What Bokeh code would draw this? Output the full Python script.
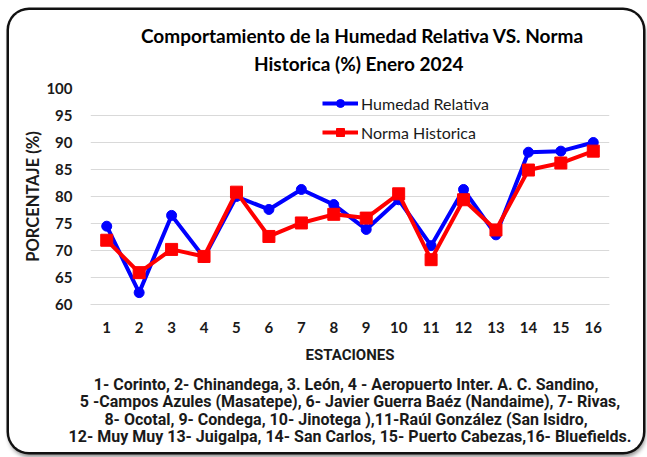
from bokeh.plotting import figure
from bokeh.models import FixedTicker, Range1d, Legend, LegendItem, Title
from bokeh.embed import file_html
from bokeh.resources import INLINE

# ---------------- data ----------------
estaciones = list(range(1, 17))
humedad = [74.5, 62.2, 76.5, 68.7, 80.0, 77.6, 81.3, 78.5, 73.9, 79.4, 70.9, 81.3, 72.9, 88.2, 88.4, 90.0]
norma = [71.9, 65.9, 70.2, 68.9, 80.8, 72.6, 75.1, 76.7, 76.0, 80.5, 68.3, 79.4, 73.8, 84.9, 86.2, 88.4]
y_ticks = [60, 65, 70, 75, 80, 85, 90, 95, 100]
series_names = ["Humedad Relativa", "Norma Historica"]
title_lines = ["Comportamiento de la Humedad Relativa VS. Norma",
               "Historica (%)  Enero 2024"]
x_title = "ESTACIONES"
y_title = "PORCENTAJE (%)"
footnote_lines = [
    "1- Corinto,  2- Chinandega,  3. León, 4 - Aeropuerto Inter. A. C. Sandino,",
    "5 -Campos Azules (Masatepe), 6- Javier Guerra Baéz (Nandaime), 7- Rivas,",
    "8- Ocotal, 9- Condega,  10- Jinotega ),11-Raúl González  (San Isidro,",
    "12- Muy Muy 13- Juigalpa, 14- San Carlos, 15- Puerto Cabezas,16- Bluefields.",
]

W, H = 634, 442
TXT = "#1a1a1a"
NARROW = "Roboto"

p = figure(width=W, height=H, output_backend="svg", toolbar_location=None,
           x_range=Range1d(0.5, 16.5), y_range=Range1d(60, 100),
           min_border_left=81, min_border_right=34, min_border_top=78, min_border_bottom=148,
           background_fill_color="white", border_fill_color=None)
p.styles = {
    "margin-left": "9px",
    "margin-top": "10px",
    "border-radius": "20px",
    "background": "white",
    "box-shadow": "0 0 0 2.5px #111111, 1px 4px 4px 1px rgba(0,0,0,0.45)",
}
p.outline_line_color = None
p.xgrid.grid_line_color = None
p.ygrid.grid_line_color = "#d9d9d9"
p.ygrid.grid_line_width = 1

# axes
p.yaxis.ticker = FixedTicker(ticks=y_ticks)
p.xaxis.ticker = FixedTicker(ticks=estaciones)
for ax in (p.xaxis[0], p.yaxis[0]):
    ax.major_tick_line_color = None
    ax.minor_tick_line_color = None
    ax.major_label_text_font = "Lato"
    ax.major_label_text_font_style = "bold"
    ax.major_label_text_font_size = "15px"
    ax.major_label_text_color = TXT
    ax.axis_label_text_color = TXT
    ax.axis_label_text_font_style = "bold"
p.yaxis.axis_line_color = None
p.xaxis.axis_line_color = "#d9d9d9"
p.yaxis.major_label_standoff = 12
p.xaxis.major_label_standoff = 11
p.yaxis.axis_label = y_title
p.yaxis.axis_label_text_font = "Lato"
p.yaxis.axis_label_text_font_size = "16.5px"
p.yaxis.axis_label_standoff = 0
p.xaxis.axis_label = x_title
p.xaxis.axis_label_text_font = NARROW
p.xaxis.axis_label_text_font_size = "15px"
p.xaxis.axis_label_standoff = 10

# series
l1 = p.line(estaciones, humedad, line_color="#0000ff", line_width=4)
s1 = p.scatter(estaciones, humedad, marker="circle", size=10, fill_color="#0000ff", line_color="#0000ff")
l2 = p.line(estaciones, norma, line_color="#ff0000", line_width=4)
s2 = p.scatter(estaciones, norma, marker="square", size=12, fill_color="#ff0000", line_color="#ff0000")

legend = Legend(items=[LegendItem(label=series_names[0], renderers=[l1, s1]),
                       LegendItem(label=series_names[1], renderers=[l2, s2])],
                location=(232, 162), orientation="vertical",
                glyph_width=36, glyph_height=20, label_height=20, spacing=9,
                padding=0, margin=0, label_standoff=3,
                label_text_font="Lato", label_text_font_size="16px", label_text_color=TXT,
                background_fill_alpha=0, border_line_color=None)
p.add_layout(legend, "center")

# titles above (first added is nearest to the plot area)
for t, so, off in ((title_lines[1], 28, 163.5), (title_lines[0], -23.5, 50.5)):
    p.add_layout(Title(text=t, align="left", offset=off, standoff=so,
                       text_font="Lato", text_font_style="bold", text_font_size="19px",
                       text_color="#000000"), "above")

# station list below the axis (standoffs alternate to set the gaps)
for i, t in enumerate(footnote_lines):
    p.add_layout(Title(text=t, align="center", standoff=12.5 if i % 2 == 0 else -19.9,
                       text_font=NARROW, text_font_style="bold", text_font_size="16px",
                       text_color=TXT), "below")

open("out.html", "w").write(file_html(p, INLINE))
